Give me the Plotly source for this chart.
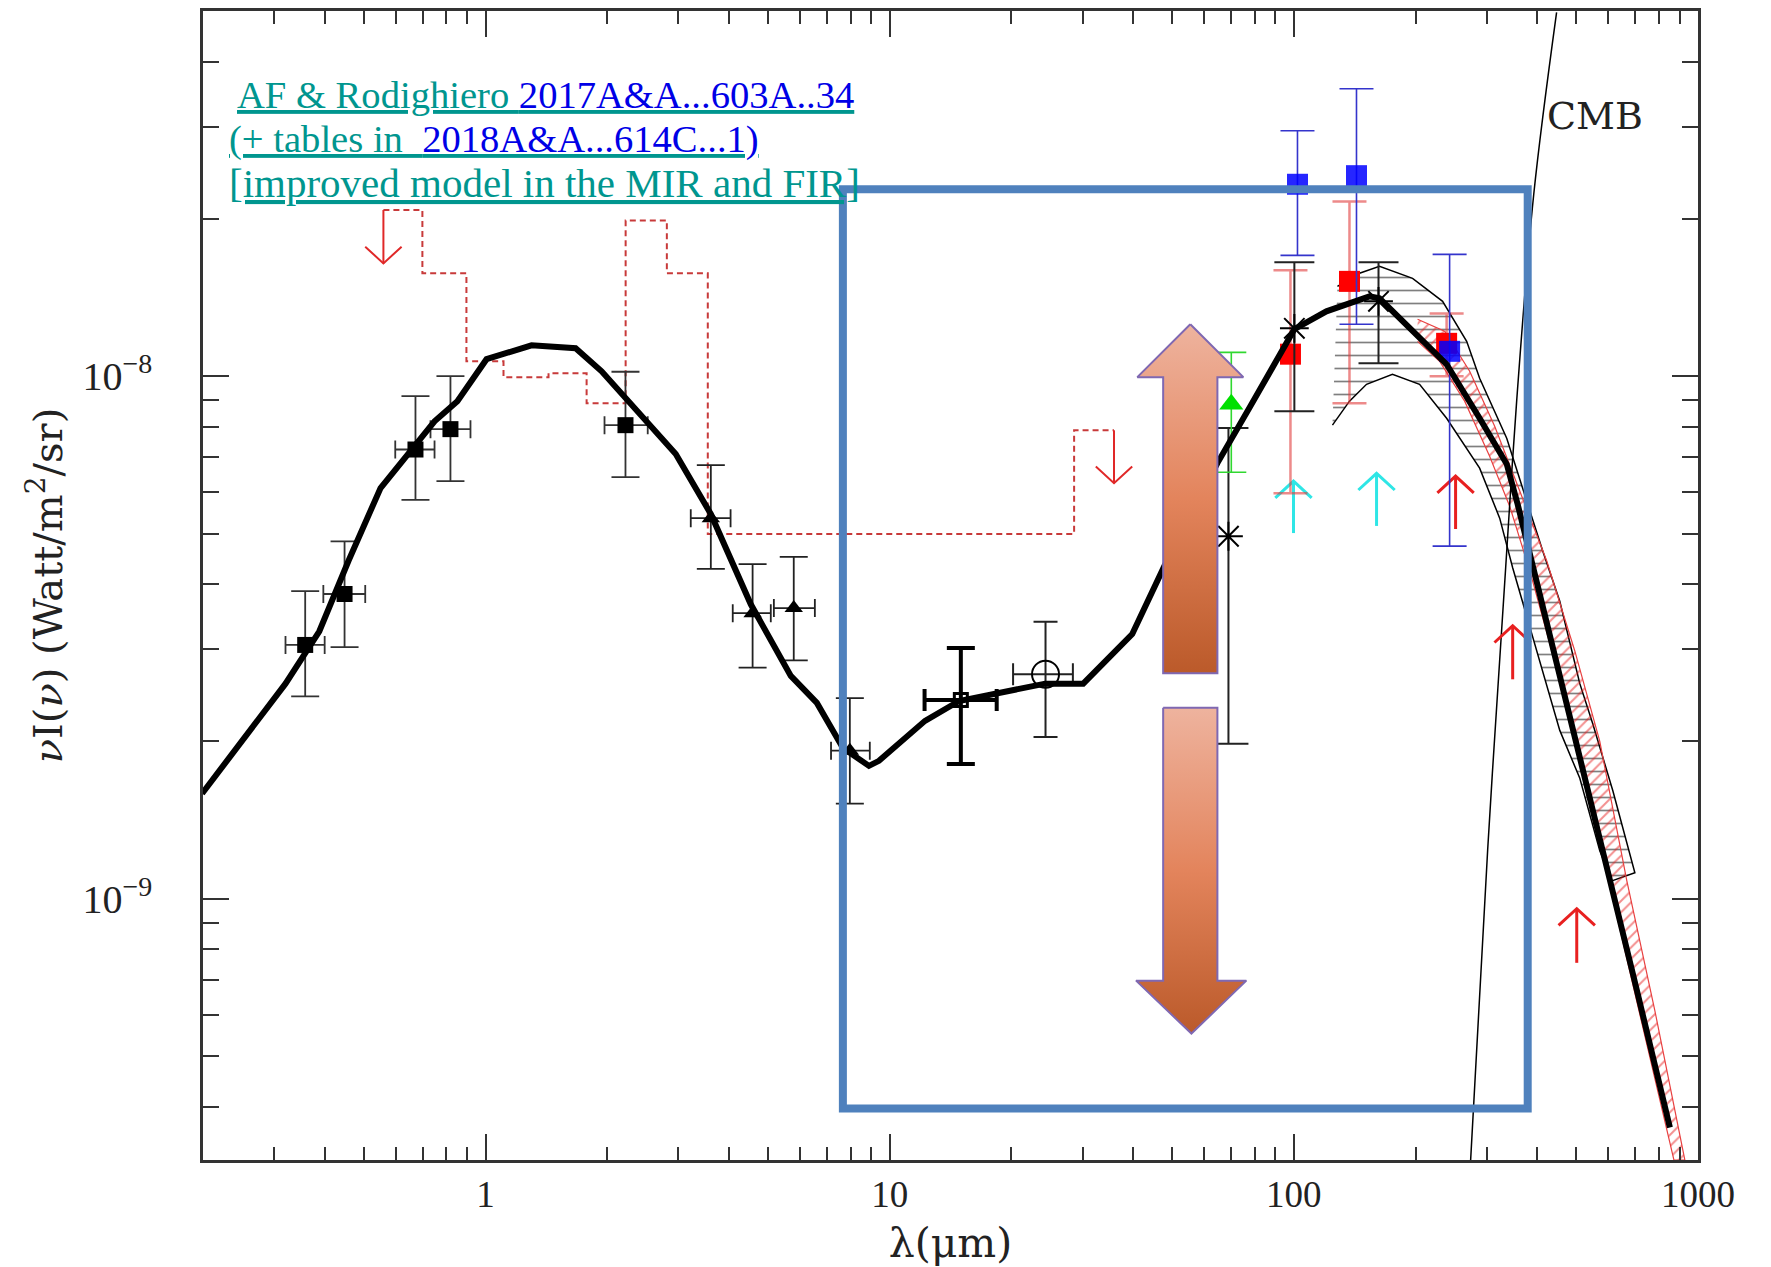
import numpy as np
import plotly.graph_objects as go

# ---------------- data (wavelength in micron, nuI_nu in W/m^2/sr) ----------------
# thick black model curve
model_wl = [0.199, 0.320, 0.388, 0.458, 0.550, 0.616, 0.748, 0.852, 1.006, 1.300,
            1.671, 1.938, 2.300, 2.637, 2.956, 3.609, 4.533, 5.694, 6.605, 7.661,
            8.887, 9.408, 12.23, 14.85, 18.13, 24.25, 30.12, 39.83, 47.81, 64.7,
            77.6, 100.3, 120.4, 153.9, 162.9, 196.7, 238.8, 288.2, 336.3, 357.9,
            390.0, 460.0, 510.0, 594.8, 689.9, 852.0]
model_val = [1.59e-9, 2.58e-9, 3.25e-9, 4.43e-9, 6.11e-9, 6.79e-9, 8.20e-9, 8.96e-9, 1.078e-8, 1.146e-8,
             1.131e-8, 1.022e-8, 8.84e-9, 7.85e-9, 7.10e-9, 5.45e-9, 3.66e-9, 2.67e-9, 2.37e-9, 1.944e-9,
             1.796e-9, 1.836e-9, 2.19e-9, 2.39e-9, 2.47e-9, 2.58e-9, 2.58e-9, 3.21e-9, 4.33e-9, 6.82e-9,
             8.69e-9, 1.23e-8, 1.331e-8, 1.422e-8, 1.41e-8, 1.219e-8, 1.054e-8, 8.31e-9, 6.79e-9, 5.69e-9,
             4.35e-9, 2.62e-9, 1.85e-9, 1.146e-9, 7.19e-10, 3.65e-10]

# optical / near-IR measurements (filled squares)
opt_wl = [0.358, 0.448, 0.671, 0.819, 2.22]
opt_val = [3.06e-9, 3.83e-9, 7.24e-9, 7.92e-9, 8.06e-9]
opt_hi = [3.88e-9, 4.83e-9, 9.16e-9, 1.0e-8, 1.02e-8]
opt_lo = [2.44e-9, 3.03e-9, 5.80e-9, 6.30e-9, 6.41e-9]
opt_wl_lo = [0.32, 0.397, 0.598, 0.731, 1.97]
opt_wl_hi = [0.40, 0.504, 0.748, 0.918, 2.52]

# IRAC bands (filled triangles)
irac_wl = [3.61, 4.58, 5.79, 7.97]
irac_val = [5.35e-9, 3.52e-9, 3.60e-9, 1.92e-9]
irac_hi = [6.76e-9, 4.37e-9, 4.51e-9, 2.42e-9]
irac_lo = [4.28e-9, 2.77e-9, 2.86e-9, 1.52e-9]
irac_wl_lo = [3.22, 4.09, 5.17, 7.16]
irac_wl_hi = [4.04, 5.08, 6.53, 8.93]

# 15 micron (open square) and 24 micron (open circle)
mir15_wl, mir15_val, mir15_hi, mir15_lo = [15.0], [2.40e-9], [3.02e-9], [1.81e-9]
mir15_wl_lo, mir15_wl_hi = [12.2], [18.4]
mir24_wl, mir24_val, mir24_hi, mir24_lo = [24.3], [2.69e-9], [3.39e-9], [2.04e-9]
mir24_wl_lo, mir24_wl_hi = [20.2], [28.4]

# far-IR measurements
fir_blue_wl = [102.1, 142.9, 242.9]
fir_blue_val = [2.33e-8, 2.42e-8, 1.116e-8]
fir_blue_hi = [2.95e-8, 3.55e-8, 1.711e-8]
fir_blue_lo = [1.703e-8, 1.257e-8, 4.73e-9]

fir_red_wl = [98.1, 137.3, 238.8]
fir_red_val = [1.102e-8, 1.519e-8, 1.156e-8]
fir_red_hi = [1.595e-8, 2.16e-8, 1.319e-8]
fir_red_lo = [5.97e-9, 8.88e-9, 1.0e-8]

fir_star_wl = [68.9, 100.3, 162.0]
fir_star_val = [4.94e-9, 1.235e-8, 1.391e-8]
fir_star_hi = [7.96e-9, 1.652e-8, 1.652e-8]
fir_star_lo = [1.98e-9, 8.57e-9, 1.059e-8]

fir_green_wl, fir_green_val = [70.03], [8.84e-9]
fir_green_hi, fir_green_lo = [1.111e-8], [6.55e-9]

# lower limits (up arrows): wavelength, base, tip
cyan_lim_wl = [99.8, 160.2]
cyan_lim_base = [5.01e-9, 5.17e-9]
cyan_lim_tip = [6.30e-9, 6.52e-9]
red_lim_wl = [251.3, 347.9, 501.2]
red_lim_base = [5.10e-9, 2.63e-9, 7.54e-10]
red_lim_tip = [6.44e-9, 3.33e-9, 9.57e-10]

# upper limits (dotted step line + down arrows)
ul_wl = [0.559, 0.698, 0.897, 1.108, 1.432, 1.779, 2.222, 2.81, 3.548, 28.6, 35.9]
ul_val = [2.08e-8, 1.574e-8, 1.068e-8, 9.96e-9, 1.013e-8, 8.88e-9, 1.987e-8, 1.574e-8,
          4.99e-9, 7.88e-9, 7.88e-9]
ul_arrow_wl = [0.559, 35.9]
ul_arrow_base = [2.08e-8, 7.88e-9]
ul_arrow_tip = [1.644e-8, 6.24e-9]

# CMB curve
cmb_wl = [273.8, 301.7, 334.3, 355.9, 392.3, 446.8]
cmb_val = [3.16e-10, 1.24e-9, 4.30e-9, 8.96e-9, 2.23e-8, 4.97e-8]

# hatched far-IR uncertainty band (black)
band_up_wl = [128.2, 145.4, 162.9, 196.7, 233.4, 267.7, 288.2, 336.3, 376.9, 412.9, 455.0,
              510.0, 549.3, 615.6, 697.9]
band_up_val = [1.486e-8, 1.574e-8, 1.623e-8, 1.539e-8, 1.391e-8, 1.166e-8, 9.91e-9, 7.61e-9,
               5.77e-9, 4.63e-9, 3.71e-9, 2.58e-9, 2.16e-9, 1.609e-9, 1.121e-9]
band_lo_wl = [124.6, 137.3, 151.3, 175.4, 204.7, 238.8, 288.2, 323.1, 347.9, 368.4, 405.9,
              455.0, 510.0, 571.5, 612.2]
band_lo_val = [8.06e-9, 8.96e-9, 9.65e-9, 1.009e-8, 9.65e-9, 8.31e-9, 6.67e-9, 5.35e-9,
               4.30e-9, 3.71e-9, 2.85e-9, 2.10e-9, 1.70e-9, 1.235e-9, 1.082e-9]

# hatched sub-mm band (red)
rband_up_wl = [202.4, 236.1, 272.3, 314.0, 362.2, 422.5, 495.7, 571.5, 666.7, 782.0, 928.0]
rband_up_val = [1.285e-8, 1.219e-8, 1.022e-8, 8.02e-9, 6.03e-9, 4.43e-9, 2.98e-9, 2.00e-9,
                1.082e-9, 6.11e-10, 3.16e-10]
rband_lo_wl = [202.4, 229.4, 264.6, 305.1, 342.0, 385.0, 445.0, 515.0, 595.0, 705.0, 872.0]
rband_lo_val = [1.166e-8, 1.068e-8, 8.96e-9, 7.03e-9, 5.64e-9, 4.20e-9, 2.80e-9, 1.85e-9,
                1.12e-9, 6.38e-10, 3.16e-10]

# big orange arrows (outline vertices)
up_arrow_wl = [55.44, 75.0, 64.7, 64.7, 47.5, 47.5, 41.0, 55.44]
up_arrow_val = [1.257e-8, 9.96e-9, 9.96e-9, 2.70e-9, 2.70e-9, 9.96e-9, 9.96e-9, 1.257e-8]
down_arrow_wl = [47.5, 64.7, 64.7, 76.3, 55.8, 40.7, 47.5, 47.5]
down_arrow_val = [2.32e-9, 2.32e-9, 6.97e-10, 6.97e-10, 5.52e-10, 6.97e-10, 6.97e-10, 2.32e-9]

# highlighted region
box_wl = [7.66, 379.0]
box_val = [3.97e-10, 2.28e-8]

# axis ticks
x_major = [1, 10, 100, 1000]
x_major_text = ['1', '10', '100', '1000']
x_minor = [0.2, 0.3, 0.4, 0.5, 0.6, 0.7, 0.8, 0.9, 2, 3, 4, 5, 6, 7, 8, 9,
           20, 30, 40, 50, 60, 70, 80, 90, 200, 300, 400, 500, 600, 700, 800, 900]
y_major = [1e-9, 1e-8]
y_major_text = ['10<sup>\u22129</sup>', '10<sup>\u22128</sup>']
y_minor = [4e-10, 5e-10, 6e-10, 7e-10, 8e-10, 9e-10, 2e-9, 3e-9, 4e-9, 5e-9, 6e-9, 7e-9,
           8e-9, 9e-9, 2e-8, 3e-8, 4e-8, 5e-8]

SERIF = 'Liberation Serif'
WIDE_SERIF = 'DejaVu Serif'


def errs(val, hi, lo):
    v, h, l = np.array(val), np.array(hi), np.array(lo)
    return list(h - v), list(v - l)


def arrow_paths(wl, base, tip, hx=0.045, hy=0.032):
    """Shaft plus open V head for limit arrows (head size in decades)."""
    px, py = [], []
    for x, b, t in zip(wl, base, tip):
        sgn = 1 if t > b else -1
        arm = t * 10 ** (-sgn * hy)
        px += [x, x, None, x * 10 ** (-hx), x, x * 10 ** hx, None]
        py += [b, t, None, arm, t, arm, None]
    return px, py


fig = go.Figure()

# uncertainty bands
fig.add_trace(go.Scatter(
    x=band_up_wl + band_lo_wl[::-1], y=band_up_val + band_lo_val[::-1],
    mode='lines', fill='toself', fillcolor='rgba(0,0,0,0)',
    fillpattern=dict(shape='-', fgcolor='black', size=13, solidity=0.13),
    line=dict(color='black', width=1.5), hoverinfo='skip'))
fig.add_trace(go.Scatter(
    x=rband_up_wl + rband_lo_wl[::-1], y=rband_up_val + rband_lo_val[::-1],
    mode='lines', fill='toself', fillcolor='rgba(0,0,0,0)',
    fillpattern=dict(shape='/', fgcolor='#E82020', size=8, solidity=0.25),
    line=dict(color='#E84040', width=1.2), hoverinfo='skip'))

# CMB
fig.add_trace(go.Scatter(x=cmb_wl, y=cmb_val, mode='lines',
                         line=dict(color='black', width=1.5, shape='spline')))

# upper limits
fig.add_trace(go.Scatter(x=ul_wl, y=ul_val, mode='lines',
                         line=dict(color='#C83A3A', width=2, dash='6px,4px', shape='hv')))
ax_, ay_ = arrow_paths(ul_arrow_wl, ul_arrow_base, ul_arrow_tip)
fig.add_trace(go.Scatter(x=ax_, y=ay_, mode='lines', line=dict(color='#E02828', width=2)))

# lower limits
ax_, ay_ = arrow_paths(cyan_lim_wl, cyan_lim_base, cyan_lim_tip)
fig.add_trace(go.Scatter(x=ax_, y=ay_, mode='lines', line=dict(color='#2EE6E6', width=3)))
ax_, ay_ = arrow_paths(red_lim_wl, red_lim_base, red_lim_tip)
fig.add_trace(go.Scatter(x=ax_, y=ay_, mode='lines', line=dict(color='#E82020', width=3)))

# optical / near-IR
eh, el = errs(opt_val, opt_hi, opt_lo)
xh, xl = errs(opt_wl, opt_wl_hi, opt_wl_lo)
fig.add_trace(go.Scatter(
    x=opt_wl, y=opt_val, mode='markers',
    marker=dict(symbol='square', size=16, color='black'),
    error_y=dict(type='data', symmetric=False, array=eh, arrayminus=el,
                 color='#333', thickness=1.8, width=14),
    error_x=dict(type='data', symmetric=False, array=xh, arrayminus=xl,
                 color='#333', thickness=1.8, width=9)))

eh, el = errs(irac_val, irac_hi, irac_lo)
xh, xl = errs(irac_wl, irac_wl_hi, irac_wl_lo)
fig.add_trace(go.Scatter(
    x=irac_wl, y=irac_val, mode='markers',
    marker=dict(symbol='triangle-up', size=16, color='black'),
    error_y=dict(type='data', symmetric=False, array=eh, arrayminus=el,
                 color='#222', thickness=1.8, width=14),
    error_x=dict(type='data', symmetric=False, array=xh, arrayminus=xl,
                 color='#222', thickness=1.8, width=9)))

# mid-IR
eh, el = errs(mir15_val, mir15_hi, mir15_lo)
xh, xl = errs(mir15_wl, mir15_wl_hi, mir15_wl_lo)
fig.add_trace(go.Scatter(
    x=mir15_wl, y=mir15_val, mode='markers',
    marker=dict(symbol='square-open', size=13, color='black', line=dict(width=3)),
    error_y=dict(type='data', symmetric=False, array=eh, arrayminus=el,
                 color='black', thickness=4, width=14),
    error_x=dict(type='data', symmetric=False, array=xh, arrayminus=xl,
                 color='black', thickness=4, width=11)))
eh, el = errs(mir24_val, mir24_hi, mir24_lo)
xh, xl = errs(mir24_wl, mir24_wl_hi, mir24_wl_lo)
fig.add_trace(go.Scatter(
    x=mir24_wl, y=mir24_val, mode='markers',
    marker=dict(symbol='circle-open', size=27, color='black', line=dict(width=2)),
    error_y=dict(type='data', symmetric=False, array=eh, arrayminus=el,
                 color='#222', thickness=2, width=12),
    error_x=dict(type='data', symmetric=False, array=xh, arrayminus=xl,
                 color='#222', thickness=2, width=11)))

# far-IR
eh, el = errs(fir_red_val, fir_red_hi, fir_red_lo)
fig.add_trace(go.Scatter(
    x=fir_red_wl, y=fir_red_val, mode='markers',
    marker=dict(symbol='square', size=21, color='#FF0000'),
    error_y=dict(type='data', symmetric=False, array=eh, arrayminus=el,
                 color='rgba(225,60,60,0.6)', thickness=2.5, width=17)))
eh, el = errs(fir_star_val, fir_star_hi, fir_star_lo)
fig.add_trace(go.Scatter(
    x=fir_star_wl, y=fir_star_val, mode='markers',
    marker=dict(symbol='asterisk-open', size=24, color='black', line=dict(width=2, color='black')),
    error_y=dict(type='data', symmetric=False, array=eh, arrayminus=el,
                 color='#222', thickness=2, width=20)))
eh, el = errs(fir_blue_val, fir_blue_hi, fir_blue_lo)
fig.add_trace(go.Scatter(
    x=fir_blue_wl, y=fir_blue_val, mode='markers',
    marker=dict(symbol='square', size=21, color='#0000FF', opacity=0.85),
    error_y=dict(type='data', symmetric=False, array=eh, arrayminus=el,
                 color='#3434CC', thickness=1.6, width=17)))
eh, el = errs(fir_green_val, fir_green_hi, fir_green_lo)
fig.add_trace(go.Scatter(
    x=fir_green_wl, y=fir_green_val, mode='markers',
    marker=dict(symbol='triangle-up', size=21, color='#00E000'),
    error_y=dict(type='data', symmetric=False, array=eh, arrayminus=el,
                 color='#30D830', thickness=1.6, width=15)))

# model
fig.add_trace(go.Scatter(x=model_wl, y=model_val, mode='lines',
                         line=dict(color='black', width=6)))

# big orange arrows
orange_scale = [[0, '#BB5A2A'], [0.5, '#E3845C'], [1, '#EEB39E']]
for xs, ys in ((up_arrow_wl, up_arrow_val), (down_arrow_wl, down_arrow_val)):
    fig.add_trace(go.Scatter(
        x=xs, y=ys, mode='lines', fill='toself',
        fillgradient=dict(type='vertical', colorscale=orange_scale),
        line=dict(color='#7F68B2', width=2)))

# highlighted region
fig.add_shape(type='rect', xref='x', yref='y',
              x0=box_wl[0], x1=box_wl[1], y0=box_val[0], y1=box_val[1],
              line=dict(color='#4F81BD', width=8), layer='above')

# reference text
TEAL = '#00968F'
BLUE = '#0000E6'
lines = [
    (0.0214, 0.927, 38.6, "<u><span style='color:%s'>AF &amp; Rodighiero </span>"
                          "<span style='color:%s'>2017A&amp;A...603A..34</span></u>" % (TEAL, BLUE)),
    (0.0161, 0.888, 38.6, "<u><span style='color:%s'>(+ tables in  </span>"
                          "<span style='color:%s'>2018A&amp;A...614C...1)</span></u>" % (TEAL, BLUE)),
    (0.0161, 0.850, 41, "<u><span style='color:%s'>[improved model in the MIR and FIR]</span></u>" % TEAL),
]
for xp, yp, fs, txt in lines:
    fig.add_annotation(x=xp, y=yp, xref='paper', yref='paper', text=txt, showarrow=False,
                       xanchor='left', yanchor='middle',
                       font=dict(family=SERIF, size=fs, color=TEAL))

fig.add_annotation(x=0.8977, y=0.9086, xref='paper', yref='paper', text='CMB', showarrow=False,
                   xanchor='left', yanchor='middle', font=dict(family=WIDE_SERIF, size=38, color='#222'))

axis_common = dict(
    type='log', showgrid=False, zeroline=False, showline=True, linecolor='#333', linewidth=2.5,
    mirror='allticks', ticks='inside', ticklen=26, tickwidth=2, tickcolor='#333',
    automargin=False,
)

fig.update_layout(
    width=1771, height=1267,
    margin=dict(l=203, r=73, t=11, b=107),
    paper_bgcolor='white', plot_bgcolor='white',
    showlegend=False,
    xaxis=dict(
        axis_common, range=[np.log10(0.2), 3], tickmode='array', tickvals=x_major,
        ticktext=x_major_text, ticklabelstandoff=0,
        tickfont=dict(family=SERIF, size=37, color='#222'),
        minor=dict(tickmode='array', tickvals=x_minor, ticks='inside', ticklen=13,
                   tickwidth=2, tickcolor='#333'),
        title=dict(text='\u03bb(\u03bcm)', font=dict(family=WIDE_SERIF, size=41, color='#222'),
                   standoff=34)),
    yaxis=dict(
        axis_common, range=[-9.5, np.log10(5.0e-8)], tickmode='array', tickvals=y_major,
        ticktext=y_major_text, ticklabelstandoff=40,
        tickfont=dict(family=SERIF, size=40, color='#222'),
        minor=dict(tickmode='array', tickvals=y_minor, ticks='inside', ticklen=16,
                   tickwidth=2, tickcolor='#333'),
        title=dict(text='<i>\u03bd</i>I(<i>\u03bd</i>) (Watt/m<sup>2</sup>/sr)',
                   font=dict(family=WIDE_SERIF, size=40, color='#222'), standoff=8)),
)

fig.write_html('out.html')
